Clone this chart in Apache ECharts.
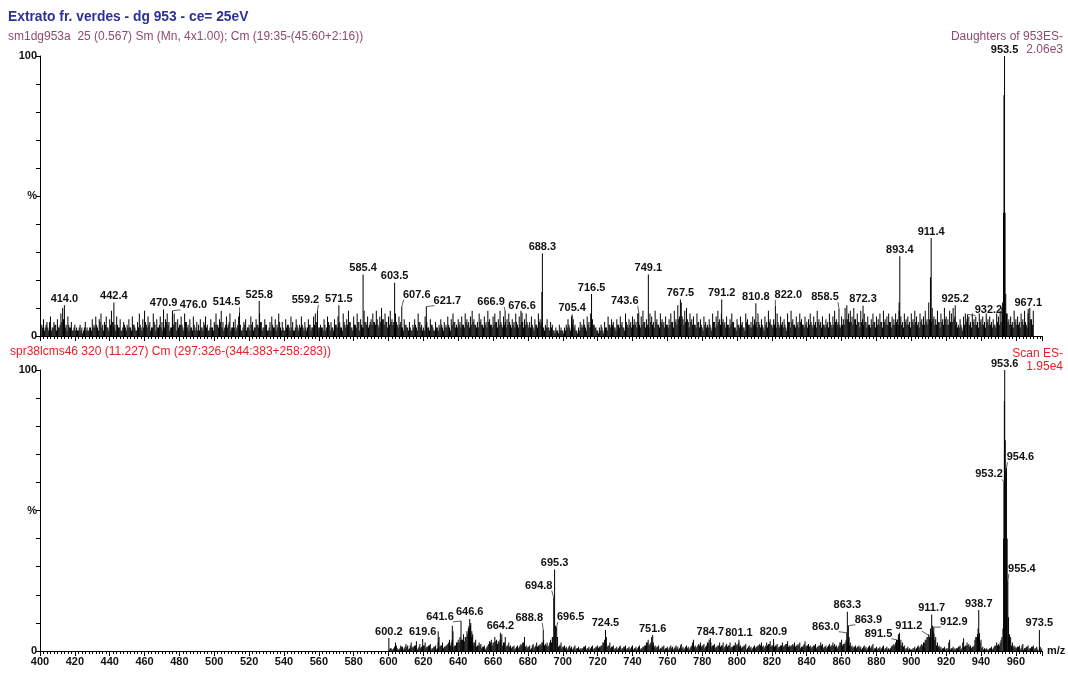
<!DOCTYPE html>
<html><head><meta charset="utf-8">
<script src="https://cdn.jsdelivr.net/npm/echarts@6.0.0/dist/echarts.min.js"></script>
<style>html,body{margin:0;padding:0;background:#fff}#c{width:1068px;height:673px}</style>
</head><body><div id="c"></div>
<script>
// ---------------- DATA ----------------
const xMin = 400, xMax = 975, xInterval = 20;
const titleText = 'Extrato fr. verdes - dg 953 - ce= 25eV';
const topHeader = 'sm1dg953a  25 (0.567) Sm (Mn, 4x1.00); Cm (19:35-(45:60+2:16))';
const topRight = ['Daughters of 953ES-', '2.06e3'];
const botHeader = 'spr38lcms46 320 (11.227) Cm (297:326-(344:383+258:283))';
const botRight = ['Scan ES-', '1.95e4'];

// top panel background ions, one value per m/z unit starting at 401 (% of base peak)
const topNoiseStart = 401;
const topNoise = [
 4,6,3,5,2,7,3,5,4,6, 3,8,10,6,4,7,3,5,2,4, 3,2,4,3,2,5,3,2,3,6, 4,7,3,6,8,4,5,7,3,6,
 9,5,4,7,3,6,2,5,3,4, 6,3,7,4,2,5,8,3,6,9, 4,7,5,3,8,4,6,3,7,5, 4,6,8,5,3,7,8,5,6,4,
 7,3,8,5,4,6,3,7,2,5, 4,6,3,5,7,4,2,6,3,5, 8,4,6,9,5,3,7,4,8,3, 5,6,3,7,4,2,5,6,3,4,
 7,5,3,6,4,8,5,3,6,4, 2,5,7,3,6,4,8,3,5,2, 6,4,3,7,5,2,6,3,4,7, 3,5,2,6,4,3,7,8,5,3,
 4,3,6,2,7,4,5,3,6,4, 7,5,3,8,4,6,9,5,3,7, 4,8,5,6,3,9,5,7,4,6, 8,5,9,4,7,10,6,8,5,7,
 9,6,5,8,4,7,5,3,6,4, 3,5,2,4,6,3,8,5,4,3, 7,5,3,6,4,2,5,3,4,6, 3,5,4,7,3,6,8,5,4,6,
 5,7,4,8,6,5,7,9,6,4, 5,8,6,4,7,5,9,6,4,7, 8,5,6,9,4,7,5,6,8,4, 6,5,8,4,7,9,5,6,8,4,
 5,7,3,6,4,8,6,5,3,4, 6,3,5,4,2,3,2,4,3,2, 3,4,6,3,7,6,4,2,3,5, 4,6,3,7,5,8,6,4,3,2,
 3,4,2,5,3,7,4,6,5,3, 6,4,7,5,3,8,4,6,5,7, 6,5,8,4,7,9,5,6,4,8, 7,5,9,6,4,8,6,5,7,4,
 6,8,5,9,6,11,7,12,6,9, 10,5,8,6,7,4,8,5,6,3, 7,5,4,6,3,8,5,7,9,6, 8,6,5,7,4,6,8,5,3,6,
 4,7,5,3,8,6,4,5,7,6, 5,8,4,6,3,7,5,9,6,4, 6,5,8,4,7,5,6,3,8,5, 9,6,4,7,5,8,6,4,7,5,
 6,8,4,7,5,9,6,5,7,4, 6,5,8,4,7,9,6,5,4,7, 6,10,11,8,9,7,10,6,8,5, 9,6,8,5,7,4,6,8,5,7,
 6,8,5,9,6,7,8,5,7,6, 8,6,9,7,5,8,6,7,5,8, 6,9,7,5,8,6,7,9,6,12, 8,10,7,6,9,5,8,6,10,7,
 6,9,8,10,7,5,4,6,3,7, 8,6,7,5,8,6,7,5,8,6, 7,5,8,6,7,5,6,4,8,7, 9,10,0,0,8,6,7,5,9,6,
 7,5,8,6,9,4,8,10,6,9
];
// top panel background ions at the half-unit positions starting at 401.5
const topNoiseHalfStart = 401.5;
const topNoiseHalf = [
 3,2,4,3,5,2,3,4,2,3, 4,5,6,3,2,4,3,2,3,2, 2,3,2,1,3,2,2,3,2,3, 3,4,2,5,3,2,4,3,2,4,
 5,3,2,4,3,2,3,4,2,3, 3,2,4,3,2,3,4,2,3,5, 3,4,2,3,5,2,3,4,3,2, 3,5,4,2,3,4,5,2,3,4,
 4,2,5,3,2,3,2,4,3,2, 2,3,2,4,3,2,3,3,2,4, 4,3,5,3,2,4,3,5,2,3, 3,2,4,3,2,3,4,2,3,2,
 4,2,3,4,3,5,2,3,4,2, 3,2,4,3,2,3,5,2,3,2, 3,4,2,3,2,3,4,2,3,4, 2,3,3,4,2,3,4,5,2,3,
 3,2,4,3,5,2,3,2,4,3, 4,3,2,5,3,4,5,3,2,4, 3,5,2,4,3,5,4,3,5,4, 5,4,6,3,5,6,4,5,3,4,
 5,4,3,5,3,4,3,2,4,3, 2,3,2,3,4,2,5,3,2,2, 4,3,2,4,3,2,3,2,3,4, 2,3,3,4,2,4,5,3,3,4,
 3,4,3,5,4,3,4,5,4,3, 3,5,4,3,4,3,5,4,3,4, 5,3,4,5,3,4,3,4,5,3, 4,3,5,3,4,5,3,4,5,3,
 3,4,2,4,3,5,4,3,2,3, 3,2,3,2,1,2,1,2,2,1, 2,3,4,2,4,3,2,1,2,3, 3,4,2,4,3,5,4,3,2,1,
 2,3,1,3,2,4,3,4,3,2, 4,3,4,3,2,5,3,4,3,4, 4,3,5,3,4,5,3,4,3,5, 4,3,5,4,3,5,4,3,4,3,
 4,5,3,5,4,6,4,7,4,5, 6,3,5,4,4,3,5,3,4,2, 4,3,3,4,2,5,3,4,5,4, 5,4,3,4,3,4,5,3,2,4,
 3,4,3,2,5,4,3,3,4,4, 3,5,3,4,2,4,3,5,4,3, 4,3,5,3,4,3,4,2,5,3, 5,4,3,4,3,5,4,3,4,3,
 4,5,3,4,3,5,4,3,4,3, 4,3,5,3,4,5,4,3,3,4, 4,6,6,5,5,4,6,4,5,3, 5,4,5,3,4,3,4,5,3,4,
 4,5,3,5,4,4,5,3,4,4, 5,4,5,4,3,5,4,4,3,5, 4,5,4,3,5,4,4,5,4,6, 5,6,4,4,5,3,5,4,6,4,
 4,5,5,6,4,3,3,4,2,4, 5,4,4,3,5,4,4,3,5,4, 4,3,5,4,4,3,4,3,5,4, 5,6,0,0,5,4,4,3,5,4,
 4,3,5,4,5,3,5,6,4
];
// top panel labelled peaks [m/z, %]
const topPeaks = [
 [414.0,11],[442.4,12],[470.9,9.5],[476.0,9],[514.5,8.5],[525.8,12.5],[559.2,9],[571.5,11],
 [585.4,22],[603.5,19],[607.6,10.5],[621.7,10.5],[666.9,9],[676.6,8.3],[688.3,29.5],[705.4,7.7],
 [716.5,15],[743.6,8.3],[749.1,22],[767.5,13],[791.2,13],[810.8,11.7],[822.0,10.8],[858.5,9.6],
 [872.3,10.8],[893.4,28.5],[911.4,35],[925.2,11],[932.2,7.7],[953.5,100],[967.1,9.6]
];
// top panel unlabelled peak shoulders [m/z, %]
const topExtra = [[688.0,15.7],[893.0,12],[911.0,21],[952.4,12],[952.9,44],[953.2,86],[953.8,44],[954.2,15],[954.6,8]];

// bottom panel background ions, one value per m/z unit starting at 601
const botNoiseStart = 601;
const botNoise = [
 1,0.5,1,3,1,0.5,2,1.5,1,2.5, 2,1,3,1.5,2,3.5,1,2.5,1.5,2, 3,1.5,2,2.5,1,1.5,2,1,5,2,
 3,1.5,2,2.5,4,3,7,2,3,4, 5,4,6,5,7,8,9,5,3,4, 2,3,2.5,1.5,2,1,2,3.5,4,3,
 5,4,3.5,4,6,3,5,2,3,2, 1.5,2,1,2,1.5,2.5,3,5,2,1.5, 2,1,2.5,1.5,3,2,2.5,3,4,2.5,
 3,2,4,5,0,0,5,2,3,1.5, 2,1.5,1,2,1.5,1,2,1,1.5,1, 1,1.5,2,1,1.5,1,2,1,1.5,2,
 1.5,2,3,4,5,2,3,1.5,2,1, 1.5,1,2,1,1.5,2,1,1.5,1,2, 1,1.5,1,2,1,1.5,2,3,4,2.5,
 5,3,2,1.5,2,1,1.5,2,1,1.5, 1,2,1.5,1,2,1.5,1,2.5,1.5,1, 2,1.5,1,2,4,2,1.5,2.5,3,2,
 2.5,1.5,3,4,3,2,2.5,1.5,2,3, 2,3,1.5,2.5,2,3,1.5,2,3,2.5, 3,2,1.5,2,2.5,1,2,1.5,1,2,
 1.5,2,2.5,3,2,1.5,3,2.5,3.5,2, 3,2,2.5,1.5,2,3,2,2.5,3.5,2, 2,2.5,3,2,2.5,3,1.5,2,3.5,2,
 2.5,2,1.5,2,2.5,1.5,2,3,2.5,1.5, 2,1.5,2.5,2,3,2.5,2,1.5,3,4, 2.5,3,0,4,3,2,1.5,2,1.5,2,
 1.5,1,2,1.5,1,2,1.5,2.5,1,1.5, 1,1.5,1,2,1,1.5,1,1,2,2.5, 3,4,5,4,3,2,1,1.5,1,0.5,
 1,1.5,1,2,1.5,2.5,3,4,5,6, 0,0,6,5,3,2,1.5,1,1.5,1, 1,4,1,1.5,1,1,1.5,2,1,4.5,
 2,3,2.5,2,1.5,2,5,6,6,4, 1.5,1,1,0.5,1,1.5,1,2,3,2.5, 3,5,0,0,0,0,5,3,2,1.5,
 1.5,2,1,2.5,1,1.5,2,1,1.5,2, 1,1.5,0,1.5,1
];
// bottom panel background ions at the half-unit positions starting at 600.5
const botNoiseHalfStart = 600.5;
const botNoiseHalf = [
 0.5,1,0.5,1.5,2,0.5,1,1.5,0.5,1.5, 1.5,0.5,2,1,1.5,2,0.5,1.5,1,1.5, 2,1,1.5,2,0.5,1,1.5,0.5,3,1.5,
 2,1,1.5,2,3,2,4,1.5,2,3, 3,4,4,3.5,5,6,7,5,2,3, 1.5,2,2,1,1.5,0.5,1.5,2.5,3,2,
 3,3.5,2.5,3,4,2,3,1.5,2,1.5, 1,1.5,0.5,1.5,1,2,2,3,1.5,1, 1.5,0.5,2,1,2,1.5,2,2,3,2,
 2,1.5,3,3,0,0,0,1.5,2,1, 1.5,1,0.5,1.5,1,0.5,1.5,0.5,1,0.5, 0.5,1,1.5,0.5,1,0.5,1.5,0.5,1,1.5,
 1,1.5,2,3,4,1.5,2,1,1.5,0.5, 1,0.5,1.5,0.5,1,1.5,0.5,1,0.5,1.5, 0.5,1,0.5,1.5,0.5,1,1.5,2,3,2,
 3,2,1.5,1,1.5,0.5,1,1.5,0.5,1, 0.5,1.5,1,0.5,1.5,1,0.5,2,1,0.5, 1.5,1,0.5,1.5,3,1.5,1,2,2,1.5,
 2,1,2,3,2,1.5,2,1,1.5,2, 1.5,2,1,2,1.5,2,1,1.5,2,2, 2,1.5,1,1.5,2,0.5,1.5,1,0.5,1.5,
 1,1.5,2,2,1.5,1,2,2,2.5,1.5, 2,1.5,2,1,1.5,2,1.5,2,2.5,1.5, 1.5,2,2,1.5,2,2,1,1.5,2.5,1.5,
 2,1.5,1,1.5,2,1,1.5,2,2,1, 1.5,1,2,1.5,2,2,1.5,1,2,3, 2,2.5,0,3,2,1.5,1,1.5,1,1.5,
 1,0.5,1.5,1,0.5,1.5,1,2,0.5,1, 0.5,1,0.5,1.5,0.5,1,0.5,0.5,1.5,2, 2,3,4,3,2,1.5,0.5,1,0.5,0.5,
 0.5,1,0.5,1.5,1,2,2,3,4,5, 5,0,0,4,2,1.5,1,0.5,1,0.5, 0.5,3,0.5,1,0.5,0.5,1,1.5,0.5,3,
 1.5,2,2,1.5,1,1.5,4,5,5,3, 1,0.5,0.5,0.5,0.5,1,0.5,1.5,2,2, 2,4,0,0,0,0,4,2,1.5,1,
 1,1.5,0.5,2,0.5,1,1.5,0.5,1,1.5, 0.5,1,0.5,1,0.5
];
// bottom panel labelled peaks [m/z, %]
const botPeaks = [
 [600.2,4.6],[619.6,4.3],[641.6,10.7],[646.6,11.4],[664.2,6.5],[688.8,7.5],[694.8,19],[695.3,29],
 [696.5,8.5],[724.5,7.5],[751.6,5.7],[784.7,4.6],[801.1,4],[820.9,4.3],[863.0,6.5],[863.3,14],
 [863.9,9],[891.5,4],[911.2,5],[911.7,13],[912.9,8.5],[938.7,14.6],[953.2,60],[953.6,100],
 [954.6,65],[955.4,25],[973.5,7.5]
];
// bottom panel unlabelled peak shoulders [m/z, %]
const botExtra = [
 [628.5,7],[636.6,9],[645.8,8],[646.2,9],[647.2,10],[647.8,7],[648.3,6],[694.3,5],[695.8,9],
 [862.6,4],[864.3,5],[892.6,6],[893.2,6.5],[911.0,8],[912.2,9],[912.5,7],[938.3,8],[939.0,6.4],
 [952.6,8],[953.0,40],[953.4,89],[953.9,75],[954.2,64],[955.0,40],[955.8,12],[956.3,6]
];

// ---------------- LAYOUT (label placement, px offsets from peak top) ----------------
const topLeaders = {
 '476.0':[21,-6],'514.5':[-13,-10],'559.2':[-12,-11],'607.6':[15,-12],'621.7':[21,-6],
 '666.9':[-14,-9],'743.6':[-14,-12],'822.0':[13,-11],'858.5':[-14,-12],'932.2':[21,-4]
};
const botLeaders = {
 '641.6':[-21,-4],'688.8':[-14,-12],'694.8':[-15,-12],'696.5':[14,-10],'863.0':[-21,-6],
 '863.9':[20,-6],'891.5':[-18,-6],'911.2':[-22,-11],'912.9':[20,-5],'953.2':[-15,-8],
 '954.6':[14,-11],'955.4':[14,-12]
};

const FONT = "'Liberation Sans', Arial, Helvetica, sans-serif";

function buildBars(series, extra, peaks) {
  const out = [];
  series.forEach(s => s.values.forEach((v, i) => { if (v > 0) out.push([s.start + i, v]); }));
  extra.forEach(p => out.push([p[0], p[1]]));
  peaks.forEach(p => out.push([p[0], p[1]]));
  out.sort((a, b) => a[0] - b[0]);
  return out;
}

function labelRenderer(leaders) {
  return function (params, api) {
    const mz = api.value(0), v = api.value(1);
    const p = api.coord([mz, v]);
    const txt = mz.toFixed(1);
    const font = 'bold 11px ' + FONT;
    const lay = leaders[txt];
    if (!lay) {
      return { type: 'text', style: { x: p[0], y: p[1] - 1, text: txt, align: 'center', verticalAlign: 'bottom', font: font, fill: '#111' } };
    }
    const cx = p[0] + lay[0], cy = p[1] + lay[1];
    const w = 28;
    const ex = lay[0] < 0 ? cx + w / 2 - 1 : cx - w / 2 + 1;
    const ey = cy + 5;
    return {
      type: 'group',
      children: [
        { type: 'line', shape: { x1: p[0], y1: p[1], x2: ex, y2: ey }, style: { stroke: '#333', lineWidth: 0.8 } },
        { type: 'text', style: { x: cx, y: cy, text: txt, align: 'center', verticalAlign: 'middle', font: font, fill: '#111' } }
      ]
    };
  };
}

function yAxis(gi) {
  return {
    gridIndex: gi, type: 'value', min: 0, max: 100, interval: 10,
    axisLine: { show: true, lineStyle: { color: '#000', width: 1 } },
    axisTick: { show: true, length: 4, lineStyle: { color: '#000' } },
    splitLine: { show: false },
    axisLabel: {
      margin: 3, color: '#111', fontSize: 11, fontWeight: 'bold', fontFamily: FONT,
      formatter: v => v === 100 ? '100' : v === 50 ? '%' : v === 0 ? '0' : ''
    }
  };
}
function xAxis(gi, showLabels) {
  return {
    gridIndex: gi, type: 'value', min: xMin, max: xMax, interval: xInterval,
    axisLine: { show: true, onZero: false, lineStyle: { color: '#000', width: 1 } },
    axisTick: { show: true, length: 5, lineStyle: { color: '#000' } },
    minorTick: { show: true, splitNumber: 10, length: 3, lineStyle: { color: '#000' } },
    splitLine: { show: false }, minorSplitLine: { show: false },
    name: showLabels ? 'm/z' : '', nameLocation: 'end', nameGap: 5,
    nameTextStyle: { color: '#111', fontSize: 11, fontWeight: 'bold', fontFamily: FONT, padding: [8, 0, 0, 0] },
    axisLabel: {
      show: showLabels, margin: 5, color: '#111', fontSize: 11, fontWeight: 'bold', fontFamily: FONT,
      showMaxLabel: false,
      formatter: v => (v % 20 === 0 && v <= 960) ? String(v) : ''
    }
  };
}

const chart = echarts.init(document.getElementById('c'), null, { renderer: 'canvas' });
chart.setOption({
  animation: false,
  backgroundColor: '#fff',
  grid: [
    { left: 40, top: 56, width: 1002, height: 280 },
    { left: 40, top: 370, width: 1002, height: 281 }
  ],
  xAxis: [xAxis(0, false), xAxis(1, true)],
  yAxis: [yAxis(0), yAxis(1)],
  series: [
    { type: 'bar', xAxisIndex: 0, yAxisIndex: 0, barWidth: 1, itemStyle: { color: '#000' }, silent: true,
      data: buildBars([{ start: topNoiseStart, values: topNoise }, { start: topNoiseHalfStart, values: topNoiseHalf }], topExtra, topPeaks) },
    { type: 'bar', xAxisIndex: 1, yAxisIndex: 1, barWidth: 1, itemStyle: { color: '#000' }, silent: true,
      data: buildBars([{ start: botNoiseStart, values: botNoise }, { start: botNoiseHalfStart, values: botNoiseHalf }], botExtra, botPeaks) },
    { type: 'custom', xAxisIndex: 0, yAxisIndex: 0, clip: false, z: 10, silent: true,
      data: topPeaks, renderItem: labelRenderer(topLeaders) },
    { type: 'custom', xAxisIndex: 1, yAxisIndex: 1, clip: false, z: 10, silent: true,
      data: botPeaks, renderItem: labelRenderer(botLeaders) }
  ],
  graphic: [
    { type: 'text', style: { x: 8, y: 17, text: titleText, font: 'bold 13.8px ' + FONT, fill: '#2e3192', verticalAlign: 'middle' } },
    { type: 'text', style: { x: 8, y: 37, text: topHeader, font: '12px ' + FONT, fill: '#8f4a70', verticalAlign: 'middle' } },
    { type: 'text', style: { x: 1063, y: 37, text: topRight[0], font: '12px ' + FONT, fill: '#8f4a70', align: 'right', verticalAlign: 'middle' } },
    { type: 'text', style: { x: 1063, y: 50, text: topRight[1], font: '12px ' + FONT, fill: '#8f4a70', align: 'right', verticalAlign: 'middle' } },
    { type: 'text', style: { x: 10, y: 352, text: botHeader, font: '12px ' + FONT, fill: '#ec1c24', verticalAlign: 'middle' } },
    { type: 'text', style: { x: 1063, y: 354, text: botRight[0], font: '12px ' + FONT, fill: '#ec1c24', align: 'right', verticalAlign: 'middle' } },
    { type: 'text', style: { x: 1063, y: 367, text: botRight[1], font: '12px ' + FONT, fill: '#ec1c24', align: 'right', verticalAlign: 'middle' } }
  ]
});
</script>
</body></html>
